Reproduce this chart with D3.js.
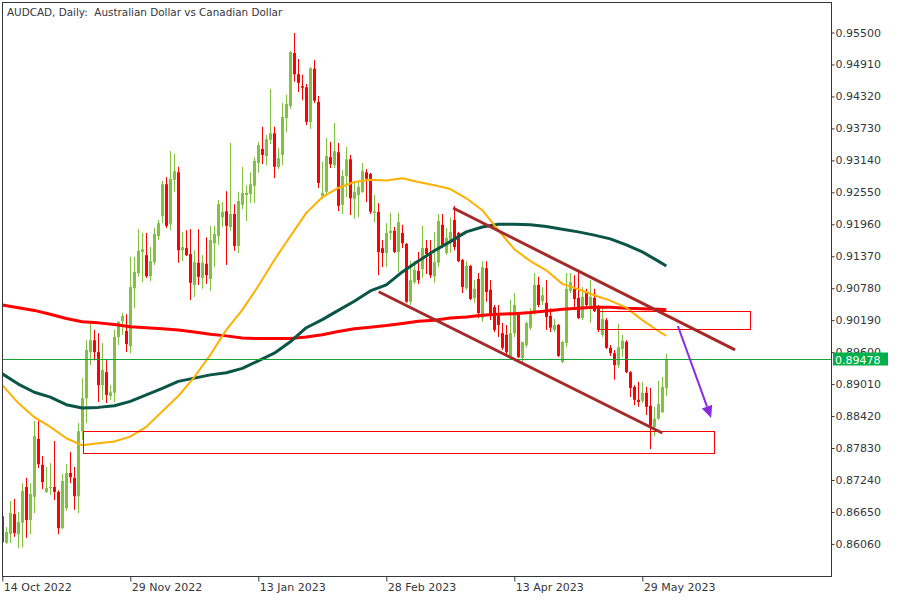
<!DOCTYPE html>
<html><head><meta charset="utf-8">
<script src="https://cdn.jsdelivr.net/npm/d3@7"></script>
<style>html,body{margin:0;padding:0;background:#fff;}svg{display:block;font-family:"DejaVu Sans",sans-serif;}</style>
</head><body><svg id="c" width="900" height="600"></svg>
<script>
const title = "AUDCAD, Daily:  Australian Dollar vs Canadian Dollar";
const open = [0.8657,0.8608,0.8624,0.8661,0.8624,0.8645,0.8711,0.8650,0.8693,0.8800,0.8752,0.8702,0.8709,0.8711,0.8702,0.8635,0.8672,0.8737,0.8728,0.8694,
0.8814,0.8875,0.8960,0.8982,0.8960,0.8899,0.8923,0.8879,0.8885,0.8988,0.9017,0.8999,0.8971,0.9078,0.9106,0.9145,0.9139,0.9100,0.9126,0.9174,
0.9211,0.9270,0.9197,0.9278,0.9292,0.9148,0.9152,0.9141,0.9084,0.9125,0.9097,0.9123,0.9095,0.9161,0.9174,0.9209,0.9220,0.9191,0.9215,0.9156,
0.9232,0.9250,0.9252,0.9267,0.9309,0.9335,0.9322,0.9352,0.9364,0.9302,0.9324,0.9392,0.9414,0.9512,0.9473,0.9451,0.9449,0.9385,0.9483,0.9422,
0.9248,0.9256,0.9320,0.9305,0.9329,0.9232,0.9285,0.9316,0.9243,0.9250,0.9256,0.9292,0.9289,0.9217,0.9219,0.9152,0.9143,0.9180,0.9184,0.9145,
0.9180,0.9160,0.9053,0.9089,0.9110,0.9113,0.9152,0.9141,0.9100,0.9125,0.9195,0.9143,0.9163,0.9204,0.9180,0.9130,0.9078,0.9119,0.9060,0.9095,
0.9023,0.9115,0.9075,0.9043,0.9027,0.8995,0.8992,0.8953,0.8995,0.9029,0.8949,0.8973,0.9005,0.9032,0.9084,0.9054,0.9051,0.9027,0.9001,0.9010,
0.8942,0.8977,0.9073,0.9077,0.9060,0.9023,0.9069,0.9045,0.9060,0.9043,0.8992,0.9019,0.8968,0.8958,0.8936,0.8966,0.8979,0.8923,0.8896,0.8872,
0.8870,0.8885,0.8861,0.8822,0.8837,0.8849,0.8894];
const high = [0.8661,0.8637,0.8685,0.8689,0.8665,0.8718,0.8728,0.8718,0.8833,0.8833,0.8768,0.8748,0.8755,0.8796,0.8705,0.8735,0.8753,0.8776,0.8748,0.8829,
0.8912,0.8982,0.9014,0.9001,0.8995,0.8977,0.8945,0.8899,0.9001,0.9017,0.9032,0.9030,0.9136,0.9136,0.9187,0.9180,0.9180,0.9154,0.9189,0.9204,
0.9276,0.9283,0.9331,0.9326,0.9302,0.9182,0.9185,0.9187,0.9148,0.9187,0.9139,0.9172,0.9193,0.9193,0.9241,0.9237,0.9257,0.9346,0.9233,0.9256,
0.9302,0.9268,0.9292,0.9320,0.9348,0.9376,0.9361,0.9446,0.9376,0.9337,0.9420,0.9435,0.9516,0.9549,0.9501,0.9472,0.9455,0.9486,0.9499,0.9433,
0.9311,0.9355,0.9348,0.9383,0.9346,0.9296,0.9339,0.9324,0.9274,0.9274,0.9309,0.9298,0.9291,0.9250,0.9235,0.9167,0.9198,0.9217,0.9191,0.9217,
0.9195,0.9161,0.9128,0.9128,0.9145,0.9193,0.9167,0.9167,0.9182,0.9215,0.9215,0.9189,0.9208,0.9230,0.9182,0.9132,0.9128,0.9121,0.9093,0.9106,
0.9128,0.9128,0.9093,0.9047,0.9047,0.9014,0.9010,0.9056,0.9069,0.9032,0.8979,0.9016,0.9041,0.9106,0.9099,0.9080,0.9093,0.9041,0.9021,0.9012,
0.8981,0.9106,0.9106,0.9102,0.9112,0.9080,0.9077,0.9093,0.9077,0.9047,0.9043,0.9023,0.8973,0.8964,0.9012,0.8992,0.8982,0.8925,0.8899,0.8905,
0.8905,0.8896,0.8894,0.8859,0.8907,0.8914,0.8957];
const low = [0.8602,0.8606,0.8608,0.8619,0.8598,0.8600,0.8617,0.8624,0.8663,0.8746,0.8707,0.8700,0.8696,0.8687,0.8624,0.8633,0.8667,0.8718,0.8669,0.8663,
0.8798,0.8829,0.8936,0.8945,0.8868,0.8872,0.8866,0.8872,0.8868,0.8973,0.8992,0.8960,0.8958,0.9041,0.9099,0.9089,0.9097,0.9091,0.9121,0.9167,
0.9198,0.9189,0.9185,0.9256,0.9125,0.9128,0.9137,0.9056,0.9062,0.9084,0.9077,0.9086,0.9073,0.9117,0.9158,0.9191,0.9121,0.9184,0.9147,0.9143,
0.9224,0.9202,0.9235,0.9235,0.9291,0.9307,0.9305,0.9344,0.9281,0.9298,0.9305,0.9366,0.9409,0.9459,0.9440,0.9425,0.9379,0.9372,0.9420,0.9263,
0.9243,0.9252,0.9300,0.9300,0.9220,0.9215,0.9246,0.9213,0.9206,0.9209,0.9254,0.9237,0.9215,0.9200,0.9102,0.9117,0.9117,0.9167,0.9143,0.9108,
0.9152,0.9051,0.9047,0.9086,0.9086,0.9097,0.9104,0.9097,0.9088,0.9117,0.9152,0.9139,0.9143,0.9148,0.9126,0.9069,0.9075,0.9056,0.9051,0.9023,
0.9016,0.9053,0.9019,0.8997,0.8988,0.8964,0.8951,0.8949,0.8988,0.8949,0.8942,0.8969,0.9001,0.9029,0.9043,0.9047,0.9001,0.8997,0.8997,0.8951,
0.8940,0.8969,0.9069,0.9040,0.9021,0.9019,0.9040,0.9014,0.9034,0.8997,0.8988,0.8966,0.8953,0.8909,0.8931,0.8951,0.8921,0.8877,0.8862,0.8859,
0.8866,0.8844,0.8781,0.8805,0.8835,0.8848,0.8879];
const close = [0.8609,0.8628,0.8663,0.8626,0.8646,0.8704,0.8650,0.8698,0.8805,0.8753,0.8720,0.8709,0.8711,0.8702,0.8635,0.8722,0.8737,0.8729,0.8694,0.8814,
0.8875,0.8964,0.8982,0.8960,0.8899,0.8927,0.8881,0.8886,0.8988,0.9016,0.9027,0.8975,0.9080,0.9108,0.9147,0.9150,0.9100,0.9128,0.9178,0.9198,
0.9270,0.9193,0.9280,0.9294,0.9148,0.9154,0.9139,0.9088,0.9126,0.9099,0.9125,0.9102,0.9167,0.9178,0.9233,0.9219,0.9193,0.9215,0.9156,0.9239,
0.9254,0.9254,0.9270,0.9313,0.9342,0.9324,0.9353,0.9364,0.9302,0.9318,0.9394,0.9418,0.9514,0.9473,0.9457,0.9448,0.9385,0.9484,0.9424,0.9272,
0.9254,0.9322,0.9307,0.9331,0.9230,0.9285,0.9316,0.9244,0.9256,0.9265,0.9294,0.9280,0.9219,0.9220,0.9145,0.9143,0.9180,0.9184,0.9145,0.9200,
0.9161,0.9053,0.9093,0.9112,0.9093,0.9152,0.9141,0.9102,0.9126,0.9202,0.9158,0.9171,0.9182,0.9154,0.9128,0.9080,0.9119,0.9058,0.9077,0.9032,
0.9117,0.9071,0.9029,0.9001,0.9010,0.8968,0.8960,0.8995,0.9047,0.8951,0.8979,0.9014,0.9032,0.9084,0.9047,0.9065,0.9025,0.9005,0.9010,0.8953,
0.8979,0.9077,0.9089,0.9058,0.9023,0.9062,0.9047,0.9062,0.9036,0.9001,0.9021,0.8968,0.8958,0.8936,0.8969,0.8981,0.8923,0.8894,0.8872,0.8868,
0.8885,0.8859,0.8824,0.8837,0.8864,0.8896,0.89478];
const maIndex = [0,4,8,12,16,20,24,28,32,36,40,44,48,52,56,60,64,68,72,76,80,84,88,92,96,100,104,108,112,116,120,124,128,132,136,140,144,148,152,156,160,164,166];
const ma50 = [0.8899,0.8866,0.8840,0.8822,0.8801,0.8788,0.8792,0.8795,0.8804,0.8822,0.8851,0.8879,0.8914,0.8955,0.9001,0.9038,0.9082,0.9130,0.9174,0.9217,0.9246,0.9263,0.9274,0.9278,0.9277,0.9281,0.9274,0.9268,0.9261,0.9244,0.9222,0.9185,0.9150,0.9128,0.9111,0.9086,0.9076,0.9065,0.9055,0.9042,0.9019,0.8999,0.8990];
const ma100 = [0.8920,0.8901,0.8886,0.8877,0.8863,0.8857,0.8858,0.8861,0.8869,0.8881,0.8893,0.8906,0.8912,0.8918,0.8922,0.8930,0.8944,0.8958,0.8979,0.9005,0.9020,0.9037,0.9054,0.9073,0.9084,0.9108,0.9128,0.9147,0.9164,0.9182,0.9191,0.9196,0.9196,0.9195,0.9192,0.9187,0.9182,0.9176,0.9169,0.9158,0.9145,0.9128,0.9119];
const ma200 = [0.9047,0.9042,0.9037,0.9030,0.9022,0.9016,0.9014,0.9011,0.9007,0.9005,0.9003,0.9001,0.8997,0.8993,0.8990,0.8986,0.8985,0.8985,0.8985,0.8988,0.8992,0.8998,0.9003,0.9006,0.9009,0.9013,0.9017,0.9019,0.9023,0.9025,0.9028,0.9030,0.9031,0.9033,0.9036,0.9039,0.9041,0.9043,0.9043,0.9041,0.9040,0.9039,0.9038];
const yTicks = [0.955,0.9491,0.9432,0.9373,0.9314,0.9255,0.9196,0.9137,0.9078,0.9019,0.8960,0.8901,0.8842,0.8783,0.8724,0.8665,0.8606];
const xTickIndex = [0,32,64,96,128,160];
const xTickLabels = ["14 Oct 2022","29 Nov 2022","13 Jan 2023","28 Feb 2023","13 Apr 2023","29 May 2023"];
const lastPrice = 0.89478;
const channelUpper = [[112.7,0.9226],[183.2,0.8964]];
const channelLower = [[94.1,0.90715],[165.0,0.88107]];
const zoneUpper = [148.7,186.9,0.90368,0.90021];
const zoneLower = [20.1,178.0,0.88140,0.87738];
const arrowPts = [[168.9,0.90082],[177.2,0.88384]];

const svg = d3.select("#c");
const L=2, T=2, R=831, B=576;
const x = d3.scaleLinear().domain([0,166]).range([2.3,666.3]);
const y = d3.scaleLinear().domain([0.955,0.8606]).range([32.5,543.9]);

svg.append("rect").attr("width",900).attr("height",600).attr("fill","#fff");
svg.append("defs").append("clipPath").attr("id","plot").append("rect")
  .attr("x",L).attr("y",T).attr("width",R-L).attr("height",B-T);
const g = svg.append("g").attr("clip-path","url(#plot)");

const bars = d3.range(open.length);
const UP="#81c341", DN="#ff0000";
g.append("g").selectAll("line").data(bars).join("line")
  .attr("x1",i=>Math.round(x(i))+0.5).attr("x2",i=>Math.round(x(i))+0.5)
  .attr("y1",i=>y(high[i])).attr("y2",i=>y(low[i]))
  .attr("stroke",i=>close[i]>=open[i]?UP:DN).attr("stroke-width",1);
g.append("g").selectAll("rect").data(bars).join("rect")
  .attr("x",i=>Math.round(x(i))-1).attr("width",3)
  .attr("y",i=>Math.min(y(open[i]),y(close[i])))
  .attr("height",i=>Math.max(1,Math.abs(y(open[i])-y(close[i]))))
  .attr("fill",i=>close[i]>=open[i]?UP:DN);

function maLine(vals,color,w){
  g.append("path").datum(maIndex.map((k,j)=>[k,vals[j]]))
    .attr("fill","none").attr("stroke",color).attr("stroke-width",w)
    .attr("stroke-linejoin","round")
    .attr("d",d3.line().x(d=>x(d[0])).y(d=>y(d[1])));
}
maLine(ma200,"#ff0000",3);
maLine(ma100,"#0b5548",3);
maLine(ma50,"#ffb000",2);

// price line
const py = Math.round(y(lastPrice))+0.5;
g.append("line").attr("x1",L).attr("x2",R).attr("y1",py).attr("y2",py).attr("stroke","#13a538").attr("stroke-width",1);

// zones
function zone(z){
  const x0=Math.round(x(z[0]))+0.5, x1=Math.round(x(z[1]))+0.5, y0=Math.round(y(z[2]))+0.5, y1=Math.round(y(z[3]))+0.5;
  g.append("rect").attr("x",x0).attr("y",y0).attr("width",x1-x0).attr("height",y1-y0)
    .attr("fill","none").attr("stroke","#ff0000").attr("stroke-width",1);
}
zone(zoneUpper); zone(zoneLower);

// channel
[channelUpper,channelLower].forEach(c=>{
  g.append("line").attr("x1",x(c[0][0])).attr("y1",y(c[0][1])).attr("x2",x(c[1][0])).attr("y2",y(c[1][1]))
   .attr("stroke","#a52a2a").attr("stroke-width",3);
});

// arrow
{
  const ax0=x(arrowPts[0][0]), ay0=y(arrowPts[0][1]), ax1=x(arrowPts[1][0]), ay1=y(arrowPts[1][1]);
  const ang=Math.atan2(ay1-ay0,ax1-ax0), len=12, hw=5.5;
  const bx=ax1-len*Math.cos(ang), by=ay1-len*Math.sin(ang);
  g.append("line").attr("x1",ax0).attr("y1",ay0).attr("x2",bx).attr("y2",by).attr("stroke","#8a2be2").attr("stroke-width",2);
  g.append("path").attr("fill","#8a2be2")
   .attr("d",`M${ax1},${ay1}L${bx-hw*Math.sin(ang)},${by+hw*Math.cos(ang)}L${bx+hw*Math.sin(ang)},${by-hw*Math.cos(ang)}Z`);
}

// frame
svg.append("rect").attr("x",L+0.5).attr("y",T+0.5).attr("width",R-L).attr("height",B-T)
  .attr("fill","none").attr("stroke","#33373d").attr("stroke-width",1);

// axes
const ya = svg.append("g").attr("transform",`translate(${R+0.5},0)`)
  .call(d3.axisRight(y).tickValues(yTicks).tickFormat(d3.format(".5f")).tickSize(3).tickPadding(1));
ya.select(".domain").remove();
ya.selectAll("line").attr("stroke","#33373d");
ya.selectAll("text").attr("font-size","11px").attr("fill","#33373d").attr("font-family","DejaVu Sans");

const xa = svg.append("g").attr("transform",`translate(0,${B+0.5})`)
  .call(d3.axisBottom(x).tickValues(xTickIndex).tickFormat((d,i)=>xTickLabels[i]).tickSize(5).tickPadding(2));
xa.select(".domain").remove();
xa.selectAll("line").attr("stroke","#33373d");
xa.selectAll("text").attr("font-size","11px").attr("fill","#33373d").attr("text-anchor","start").attr("dx","1").attr("font-family","DejaVu Sans");

// price label (drawn over the 0.89600 tick label, as in the reference)
svg.append("rect").attr("x",833).attr("y",py-7).attr("width",55).attr("height",13).attr("fill","#00b04a");
svg.append("text").attr("x",835).attr("y",py+4.5).attr("font-size","11px").attr("fill","#fff").text(d3.format(".5f")(lastPrice));

// title
svg.append("text").attr("x",7).attr("y",16).attr("font-size","10.4px").attr("fill","#33373d")
  .style("white-space","pre").attr("xml:space","preserve").text(title);
</script></body></html>
